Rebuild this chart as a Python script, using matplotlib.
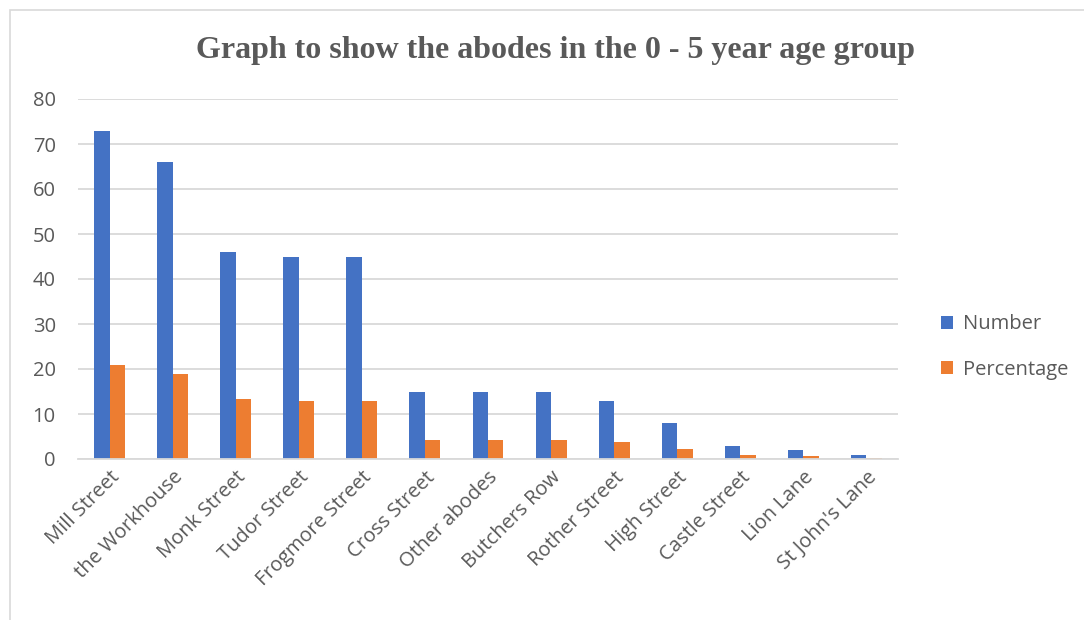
import numpy as np
import matplotlib.pyplot as plt
from matplotlib.patches import Rectangle

# Abodes of children aged 0-5
abodes = ['Mill Street', 'the Workhouse', 'Monk Street', 'Tudor Street',
          'Frogmore Street', 'Cross Street', 'Other abodes', 'Butchers Row',
          'Rother Street', 'High Street', 'Castle Street', 'Lion Lane',
          "St John's Lane"]
number = [73, 66, 46, 45, 45, 15, 15, 15, 13, 8, 3, 2, 1]
percentage = [21.0, 19.0, 13.3, 13.0, 13.0, 4.3, 4.3, 4.3, 3.7, 2.3, 0.9, 0.6, 0.3]

plt.rcParams['font.family'] = ['Open Sans', 'DejaVu Sans']

fig = plt.figure(figsize=(10.84, 6.2), dpi=100)
# chart border (only top and left visible)
fig.patches.append(Rectangle((10 / 1084, -0.1), 1.2, 1 - 10 / 620 + 0.1,
                             transform=fig.transFigure, fill=False,
                             edgecolor='#d9d9d9', linewidth=1.2))

ax = fig.add_axes([78 / 1084, 1 - 459 / 620, 820 / 1084, 360 / 620])

x = np.arange(len(abodes))
w = 0.245
ax.bar(x - w / 2, number, w, color='#4472c4', label='Number')
ax.bar(x + w / 2, percentage, w, color='#ed7d31', label='Percentage')

ax.set_xlim(-0.5, len(abodes) - 0.5)
ax.set_ylim(0, 80)
ax.set_yticks(range(0, 81, 10))
ax.yaxis.grid(True, color='#d9d9d9', linewidth=1.3)
ax.set_axisbelow(True)
for s in ['top', 'right', 'left']:
    ax.spines[s].set_visible(False)
ax.spines['bottom'].set_color('#d9d9d9')
ax.spines['bottom'].set_linewidth(1.3)
ax.tick_params(axis='both', length=0, labelcolor='#595959', labelsize=14.5)
ax.tick_params(axis='y', pad=16)
ax.tick_params(axis='x', pad=6)
ax.set_xticks(x)
ax.set_xticklabels(abodes, rotation=45, ha='right', rotation_mode='anchor')

fig.text(0.512, 0.919, 'Graph to show the abodes in the 0 - 5 year age group',
         ha='center', va='center', fontsize=23, fontweight='bold',
         family='Liberation Serif', color='#595959')

ax.legend(loc='center left', bbox_to_anchor=(1.03, 0.311), frameon=False,
          fontsize=14.5, labelcolor='#595959', handlelength=0.6,
          handleheight=0.6, handletextpad=0.5, labelspacing=1.25)

fig.savefig('out.png', dpi=100)
